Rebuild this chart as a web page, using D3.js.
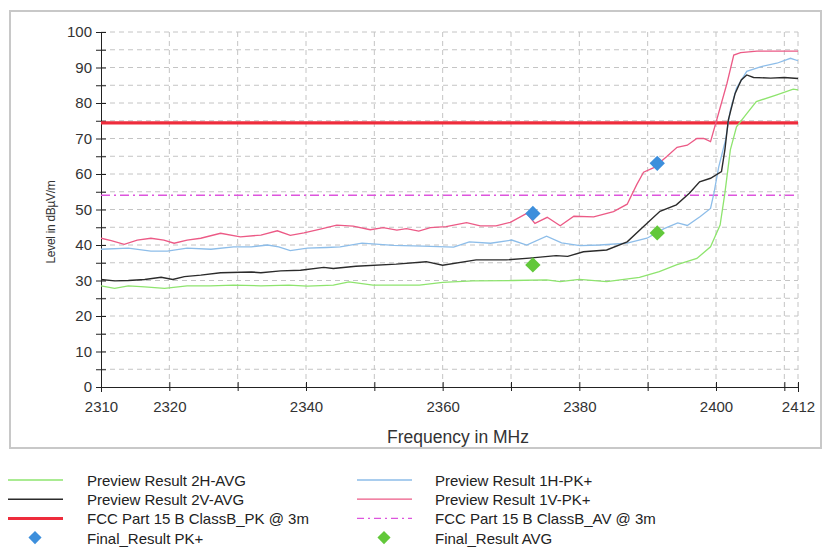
<!DOCTYPE html>
<html><head><meta charset="utf-8">
<script src="https://cdn.jsdelivr.net/npm/d3@7"></script>
<style>body{margin:0;background:#fff;font-family:"Liberation Sans",Arial,sans-serif}</style>
</head><body><svg id="c" width="824" height="550"></svg>
<script>
// ---- data ----
const pink1V_F = [2310,2311.5,2313.4,2315.3,2317.3,2319.2,2320.7,2322.6,2324.6,2327.5,2330.4,2333.4,2335.8,2337.7,2339.7,2342.1,2344.5,2346.9,2349.4,2351.3,2353.3,2354.7,2356.5,2358.2,2360.5,2363.5,2365.5,2367.8,2369.9,2372.3,2373.5,2375.3,2377.2,2379.2,2382.1,2385,2387,2388.4,2389.4,2390.9,2392.8,2394.3,2395.8,2397.2,2398.2,2399.2,2400.1,2401.6,2402.6,2403.6,2406,2412];
const pink1V_V = [41.9,41.2,40.2,41.4,41.9,41.4,40.5,41.4,41.9,43.3,42.3,42.8,44.0,42.7,43.4,44.5,45.6,45.3,44.3,44.9,44.2,44.6,43.9,44.9,45.2,46.3,45.4,45.4,46.4,48.9,46.1,47.8,45.4,48.1,47.9,49.4,51.5,57.0,60.5,61.8,64.9,67.5,68.1,70.0,70.0,69.1,75.2,85.5,93.5,94.2,94.6,94.6];
const blue1H_F = [2310,2314,2317.3,2319.7,2322.6,2326.1,2329.4,2332,2334.4,2336,2337.7,2340.2,2343,2345,2348.2,2352.8,2357.1,2361.6,2363.9,2367,2370.1,2372.3,2375.2,2377.4,2380.1,2383,2387,2389.9,2392.4,2394.4,2395.8,2397.7,2399.2,2399.7,2400.4,2401.4,2402.1,2403.0,2404.5,2406.5,2408.9,2410.9,2412];
const blue1H_V = [38.8,39.1,38.3,38.3,39.1,38.8,39.5,39.5,40.0,39.5,38.4,39.1,39.3,39.5,40.5,39.9,39.7,39.4,40.9,40.5,41.4,40.0,42.5,40.6,39.8,40.0,40.5,41.9,44.6,46.2,45.5,48.0,50.3,54.6,62.0,69.6,78.0,84.2,88.9,90.2,91.2,92.6,91.9];
const black2V_F = [2310,2312,2314,2316.4,2318.8,2320.5,2322.2,2324.6,2327.5,2332,2333.4,2336.3,2339.2,2342.6,2344,2347.3,2353.2,2357.6,2360,2364.9,2369.3,2372.7,2376.6,2378.3,2380.6,2384,2387,2389.4,2391.8,2394.2,2396.1,2397.6,2399.2,2400.8,2401.3,2401.8,2402.8,2403.7,2404.5,2405.5,2408,2410,2412];
const black2V_V = [30.3,29.9,30.0,30.3,30.9,30.3,31.1,31.5,32.2,32.4,32.2,32.7,32.9,33.7,33.4,34.0,34.6,35.3,34.3,35.8,35.8,36.3,37.0,36.8,38.1,38.6,40.9,45.2,49.5,51.3,54.6,57.8,58.8,60.7,66.8,75.2,82.7,86.5,87.9,87.2,87.0,87.2,86.9];
const green2H_F = [2310,2312,2314,2316.4,2319.3,2322.6,2326,2329.4,2333.4,2337.5,2340.2,2344,2346.3,2349.8,2356.6,2360,2364.4,2370.3,2375.2,2377.2,2380,2384,2388.8,2391.7,2394.2,2397.2,2399.2,2400.6,2401.3,2402.1,2403,2404.5,2405.9,2408.9,2411.3,2412];
const green2H_V = [28.5,27.8,28.5,28.2,27.8,28.5,28.5,28.7,28.5,28.7,28.4,28.7,29.6,28.7,28.7,29.5,29.9,30.0,30.2,29.7,30.3,29.7,30.9,32.5,34.4,36.2,39.5,45.6,54.6,66.8,73.3,77.0,80.4,82.3,83.9,83.7];
const limitPK = 74.4;
const limitAV = 54;
const finalPK_F = [2373.2, 2391.4];
const finalPK_V = [48.9, 63.0];
const finalAV_F = [2373.2, 2391.4];
const finalAV_V = [34.4, 43.4];
const xTickLabels = [2310,2320,2340,2360,2380,2400,2412];
const xTicks = [2310,2320,2330,2340,2350,2360,2370,2380,2390,2400,2410,2412];
const yTickLabels = [0,10,20,30,40,50,60,70,80,90,100];
const legendNames = ["Preview Result 2H-AVG","Preview Result 1H-PK+","Preview Result 2V-AVG","Preview Result 1V-PK+","FCC Part 15 B ClassB_PK @ 3m","FCC Part 15 B ClassB_AV @ 3m","Final_Result PK+","Final_Result AVG"];

// ---- styles ----
const C = {green:"#8ee46e", blue:"#8dbde9", black:"#2b2b2b", pink:"#ec5a86", red:"#ee2c3c", mag:"#dd55dd", dBlue:"#3d8fdc", dGreen:"#62c83a"};

const svg = d3.select("#c");
svg.append("rect").attr("x",10).attr("y",11).attr("width",811).attr("height",437)
  .attr("fill","#fff").attr("stroke","#c8c8c8").attr("stroke-width",2);

const L=101, R=798, T=32, B=387;
const x = d3.scaleLinear().domain([2310,2412]).range([L,R]);
const y = d3.scaleLinear().domain([0,100]).range([B,T]);

// grid
const g = svg.append("g");
g.selectAll(".hg").data(d3.range(5,101,5)).join("line")
  .attr("x1",L).attr("x2",R).attr("y1",d=>y(d)).attr("y2",d=>y(d))
  .attr("stroke","#c4c4c4").attr("stroke-dasharray","5,4").attr("stroke-width",1);
g.selectAll(".vg").data(xTicks.slice(1)).join("line")
  .attr("y1",T).attr("y2",B).attr("x1",d=>x(d)).attr("x2",d=>x(d))
  .attr("stroke","#c4c4c4").attr("stroke-dasharray","5,4").attr("stroke-width",1);

// axes
const yAx = svg.append("g").attr("transform",`translate(${L},0)`)
  .call(d3.axisLeft(y).tickValues(d3.range(0,101,5)).tickSize(5).tickFormat(d=>yTickLabels.includes(d)?d:""));
yAx.selectAll(".tick line").attr("x1",5).attr("x2",-5).attr("stroke","#222");
const xAx = svg.append("g").attr("transform",`translate(0,${B})`)
  .call(d3.axisBottom(x).tickValues(xTicks).tickSize(5).tickFormat(d=>xTickLabels.includes(d)?d:""));
xAx.selectAll(".tick line").attr("y1",-5).attr("y2",4).attr("stroke","#222");
[yAx,xAx].forEach(a=>{a.select(".domain").attr("stroke","#222");
  a.selectAll("text").attr("font-family","Liberation Sans, Arial").attr("font-size",15).attr("fill","#333");});
yAx.selectAll("text").attr("x",-9);
xAx.selectAll("text").attr("y",14);

svg.append("text").attr("x",458).attr("y",443).attr("text-anchor","middle")
  .attr("font-size",17.5).attr("fill","#333").text("Frequency in MHz");
svg.append("text").attr("transform","translate(55,222) rotate(-90)").attr("text-anchor","middle")
  .attr("font-size",12).attr("fill","#333").attr("letter-spacing","-0.3").text("Level in dBµV/m");

// clip
svg.append("clipPath").attr("id","cp").append("rect").attr("x",L).attr("y",T-2).attr("width",R-L+1).attr("height",B-T+2);
const plot = svg.append("g").attr("clip-path","url(#cp)");

// limits
plot.append("line").attr("x1",L).attr("x2",R).attr("y1",y(limitAV)).attr("y2",y(limitAV))
  .attr("stroke",C.mag).attr("stroke-width",1.5).attr("stroke-dasharray","9,4,2,4");
plot.append("line").attr("x1",L).attr("x2",R).attr("y1",y(limitPK)).attr("y2",y(limitPK))
  .attr("stroke",C.red).attr("stroke-width",3.2);

const line = d3.line().x(d=>x(d[0])).y(d=>y(d[1]));
const series = [
  [green2H_F,green2H_V,C.green,1.3],
  [blue1H_F,blue1H_V,C.blue,1.3],
  [black2V_F,black2V_V,C.black,1.4],
  [pink1V_F,pink1V_V,C.pink,1.3]
];
series.forEach(([f,v,c,w])=>{
  plot.append("path").datum(d3.zip(f,v)).attr("d",line).attr("fill","none").attr("stroke",c).attr("stroke-width",w);
});

const diamond = d3.symbol().type(d3.symbolDiamond2).size(150);
plot.selectAll(".pk").data(d3.zip(finalPK_F,finalPK_V)).join("path")
  .attr("d",diamond).attr("transform",d=>`translate(${x(d[0])},${y(d[1])})`).attr("fill",C.dBlue);
plot.selectAll(".av").data(d3.zip(finalAV_F,finalAV_V)).join("path")
  .attr("d",diamond).attr("transform",d=>`translate(${x(d[0])},${y(d[1])})`).attr("fill",C.dGreen);

// legend
const lg = svg.append("g");
const legendStyle = [
  {c:C.green,w:1.3},{c:C.blue,w:1.3},{c:C.black,w:1.5},{c:C.pink,w:1.3},
  {c:C.red,w:3},{c:C.mag,w:1.3,dash:"7,4,2,4"},{c:C.dBlue,sym:true},{c:C.dGreen,sym:true}
];
legendNames.forEach((n,i)=>{
  const col=i%2, row=Math.floor(i/2);
  const lx = col? 357:8, tx = col?435:87, ly = 480+row*19.2;
  const s = legendStyle[i];
  if(s.sym){
    lg.append("path").attr("d",d3.symbol().type(d3.symbolDiamond2).size(110)).attr("transform",`translate(${lx+27},${ly})`).attr("fill",s.c);
  } else {
    lg.append("line").attr("x1",lx).attr("x2",lx+55).attr("y1",ly).attr("y2",ly).attr("stroke",s.c).attr("stroke-width",s.w).attr("stroke-dasharray",s.dash||null);
  }
  lg.append("text").attr("x",tx).attr("y",ly+6).attr("font-size",15).attr("fill","#222").text(n);
});
</script></body></html>
